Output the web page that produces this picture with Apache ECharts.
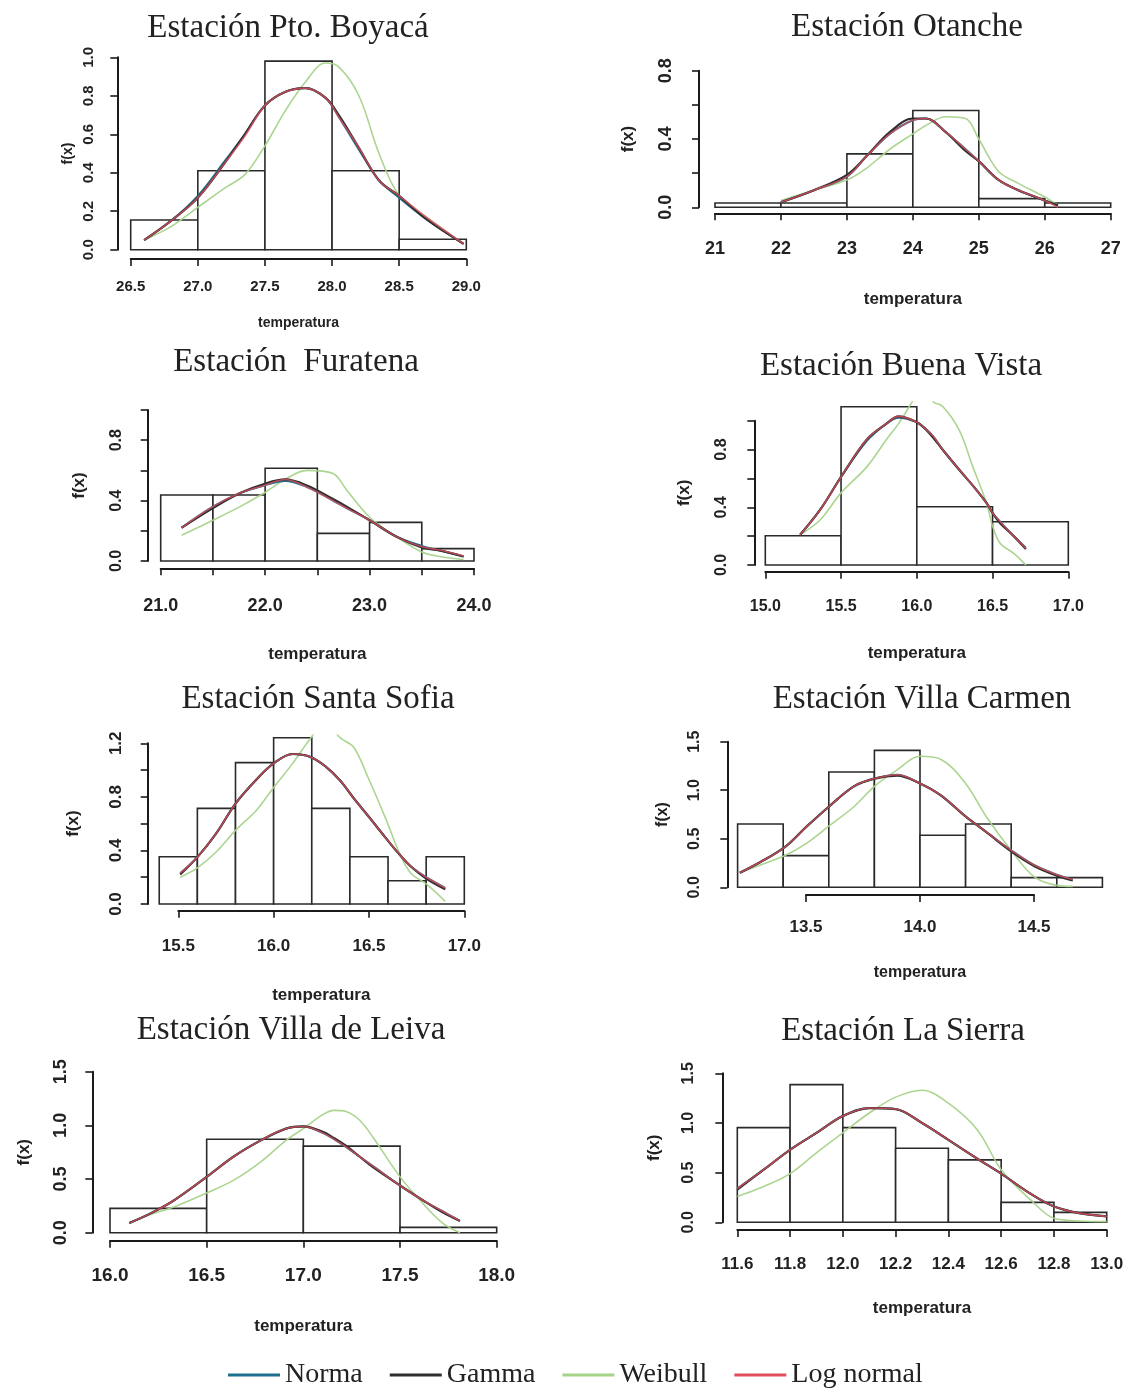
<!DOCTYPE html>
<html><head><meta charset="utf-8">
<script src="https://cdn.jsdelivr.net/npm/echarts@6/dist/echarts.min.js"></script>
<style>html,body{margin:0;padding:0;background:#fff}#c{width:1143px;height:1388px}</style>
</head><body><div id="c"></div>
<script>
// ---------------- DATA ----------------
const seriesNames = ['Norma', 'Gamma', 'Weibull', 'Log normal'];

const boyacaBins = [26.5, 27.0, 27.5, 28.0, 28.5, 29.0];
const boyacaDens = [0.154, 0.41, 0.98, 0.41, 0.054];
const boyacaX = [26.6, 26.8, 27.0, 27.2, 27.35, 27.5, 27.65, 27.8, 27.95, 28.05, 28.2, 28.35, 28.5, 28.7, 28.98];
const boyacaNorma = [0.05, 0.15, 0.28, 0.46, 0.60, 0.75, 0.82, 0.84, 0.79, 0.69, 0.52, 0.36, 0.27, 0.16, 0.03];
const boyacaGamma = [0.05, 0.15, 0.27, 0.45, 0.60, 0.75, 0.82, 0.84, 0.79, 0.70, 0.53, 0.36, 0.28, 0.16, 0.03];
const boyacaWeibull = [0.05, 0.12, 0.22, 0.32, 0.39, 0.54, 0.72, 0.87, 0.97, 0.95, 0.80, 0.50, 0.28, 0.17, 0.03];
const boyacaLogn = [0.05, 0.15, 0.27, 0.45, 0.59, 0.75, 0.82, 0.84, 0.79, 0.69, 0.53, 0.36, 0.28, 0.17, 0.03];

const otancheBins = [21, 22, 23, 24, 25, 26, 27];
const otancheDens = [0.025, 0.025, 0.313, 0.567, 0.051, 0.025];
const otancheX = [22.0, 22.5, 23.0, 23.3, 23.65, 24.0, 24.2, 24.5, 24.8, 25.0, 25.3, 25.6, 26.0, 26.2];
const otancheNorma = [0.03, 0.10, 0.18, 0.30, 0.43, 0.51, 0.52, 0.44, 0.34, 0.27, 0.16, 0.10, 0.04, 0.01];
const otancheGamma = [0.03, 0.10, 0.19, 0.30, 0.44, 0.52, 0.52, 0.44, 0.33, 0.27, 0.16, 0.10, 0.04, 0.01];
const otancheWeibull = [0.04, 0.10, 0.16, 0.23, 0.34, 0.43, 0.48, 0.53, 0.52, 0.40, 0.21, 0.14, 0.06, 0.01];
const otancheLogn = [0.03, 0.10, 0.18, 0.30, 0.43, 0.51, 0.52, 0.44, 0.34, 0.27, 0.16, 0.10, 0.04, 0.0];

const furatenaBins = [21.0, 21.5, 22.0, 22.5, 23.0, 23.5, 24.0];
const furatenaDens = [0.437, 0.437, 0.614, 0.183, 0.256, 0.082];
const furatenaX = [21.2, 21.5, 21.76, 21.99, 22.19, 22.4, 22.65, 22.78, 23.0, 23.26, 23.5, 23.67, 23.9];
const furatenaNorma = [0.22, 0.36, 0.45, 0.50, 0.53, 0.49, 0.40, 0.35, 0.27, 0.16, 0.10, 0.07, 0.03];
const furatenaGamma = [0.22, 0.35, 0.45, 0.51, 0.54, 0.50, 0.41, 0.36, 0.27, 0.16, 0.09, 0.07, 0.03];
const furatenaWeibull = [0.17, 0.27, 0.36, 0.45, 0.54, 0.60, 0.58, 0.47, 0.29, 0.16, 0.06, 0.03, 0.01];
const furatenaLogn = [0.22, 0.36, 0.45, 0.50, 0.54, 0.49, 0.40, 0.35, 0.27, 0.16, 0.095, 0.073, 0.033];

const buenaBins = [15.0, 15.5, 16.0, 16.5, 17.0];
const buenaDens = [0.203, 1.097, 0.404, 0.30];
const buenaX = [15.23, 15.36, 15.5, 15.67, 15.8, 15.88, 16.0, 16.05, 16.11, 16.17, 16.28, 16.37, 16.46, 16.5, 16.55, 16.64, 16.72];
const buenaNorma = [0.21, 0.38, 0.61, 0.86, 0.98, 1.02, 0.99, 0.95, 0.89, 0.80, 0.66, 0.55, 0.43, 0.36, 0.30, 0.20, 0.12];
const buenaGamma = [0.21, 0.38, 0.61, 0.87, 0.98, 1.03, 0.99, 0.95, 0.88, 0.80, 0.66, 0.55, 0.43, 0.36, 0.29, 0.20, 0.11];
const buenaWeibull = [0.21, 0.31, 0.50, 0.68, 0.87, 0.98, 1.18, 1.24, 1.13, 1.10, 0.935, 0.68, 0.43, 0.27, 0.15, 0.08, 0.0];
const buenaLogn = [0.21, 0.38, 0.61, 0.87, 0.98, 1.03, 0.99, 0.95, 0.89, 0.80, 0.66, 0.55, 0.43, 0.36, 0.30, 0.20, 0.115];

const sofiaBins = [15.4, 15.6, 15.8, 16.0, 16.2, 16.4, 16.6, 16.8, 17.0];
const sofiaDens = [0.353, 0.714, 1.056, 1.242, 0.714, 0.353, 0.174, 0.353];
const sofiaX = [15.51, 15.6, 15.7, 15.8, 15.91, 16.0, 16.1, 16.19, 16.27, 16.35, 16.42, 16.5, 16.59, 16.66, 16.72, 16.8, 16.9];
const sofiaNorma = [0.23, 0.35, 0.53, 0.75, 0.93, 1.05, 1.12, 1.10, 1.03, 0.92, 0.79, 0.65, 0.49, 0.37, 0.28, 0.20, 0.12];
const sofiaGamma = [0.22, 0.35, 0.53, 0.75, 0.93, 1.05, 1.12, 1.10, 1.03, 0.92, 0.79, 0.65, 0.49, 0.37, 0.28, 0.19, 0.11];
const sofiaWeibull = [0.20, 0.27, 0.39, 0.55, 0.70, 0.87, 1.05, 1.23, 1.36, 1.24, 1.17, 0.93, 0.63, 0.38, 0.23, 0.15, 0.02];
const sofiaLogn = [0.23, 0.35, 0.53, 0.75, 0.93, 1.05, 1.12, 1.10, 1.03, 0.92, 0.79, 0.65, 0.49, 0.37, 0.28, 0.20, 0.12];

const carmenBins = [13.2, 13.4, 13.6, 13.8, 14.0, 14.2, 14.4, 14.6, 14.8];
const carmenDens = [0.652, 0.326, 1.188, 1.411, 0.536, 0.652, 0.10, 0.10];
const carmenX = [13.21, 13.3, 13.41, 13.5, 13.6, 13.71, 13.8, 13.9, 14.0, 14.09, 14.2, 14.29, 14.4, 14.5, 14.6, 14.67];
const carmenNorma = [0.15, 0.26, 0.42, 0.62, 0.83, 1.04, 1.12, 1.16, 1.07, 0.95, 0.73, 0.57, 0.38, 0.23, 0.13, 0.08];
const carmenGamma = [0.15, 0.26, 0.42, 0.62, 0.83, 1.04, 1.12, 1.15, 1.07, 0.95, 0.73, 0.57, 0.37, 0.22, 0.12, 0.07];
const carmenWeibull = [0.15, 0.23, 0.33, 0.45, 0.63, 0.83, 1.04, 1.21, 1.35, 1.32, 1.07, 0.73, 0.38, 0.11, 0.02, 0.01];
const carmenLogn = [0.15, 0.26, 0.42, 0.62, 0.83, 1.04, 1.12, 1.16, 1.07, 0.95, 0.73, 0.57, 0.38, 0.23, 0.13, 0.08];

const leivaBins = [16.0, 16.5, 17.0, 17.5, 18.0];
const leivaDens = [0.227, 0.87, 0.807, 0.05];
const leivaX = [16.1, 16.21, 16.33, 16.5, 16.64, 16.78, 16.91, 17.0, 17.1, 17.16, 17.22, 17.29, 17.36, 17.5, 17.62, 17.72, 17.81];
const leivaNorma = [0.09, 0.18, 0.30, 0.52, 0.71, 0.86, 0.97, 0.99, 0.93, 0.87, 0.80, 0.71, 0.62, 0.44, 0.30, 0.20, 0.11];
const leivaGamma = [0.09, 0.18, 0.30, 0.52, 0.71, 0.86, 0.97, 0.99, 0.94, 0.88, 0.81, 0.71, 0.61, 0.44, 0.30, 0.19, 0.11];
const leivaWeibull = [0.09, 0.17, 0.24, 0.37, 0.49, 0.66, 0.86, 0.97, 1.10, 1.14, 1.13, 1.05, 0.89, 0.52, 0.27, 0.09, 0.0];
const leivaLogn = [0.09, 0.18, 0.30, 0.52, 0.71, 0.86, 0.97, 0.99, 0.93, 0.87, 0.80, 0.71, 0.62, 0.44, 0.30, 0.20, 0.11];

const sierraBins = [11.6, 11.8, 12.0, 12.2, 12.4, 12.6, 12.8, 13.0];
const sierraDens = [0.953, 1.386, 0.953, 0.745, 0.628, 0.201, 0.10];
const sierraX = [11.6, 11.7, 11.8, 11.9, 12.0, 12.1, 12.2, 12.3, 12.4, 12.51, 12.6, 12.71, 12.8, 12.9, 13.0];
const sierraNorma = [0.34, 0.53, 0.73, 0.90, 1.07, 1.15, 1.14, 1.00, 0.83, 0.64, 0.49, 0.29, 0.16, 0.09, 0.06];
const sierraGamma = [0.33, 0.53, 0.73, 0.90, 1.07, 1.15, 1.14, 1.00, 0.83, 0.64, 0.49, 0.29, 0.16, 0.09, 0.06];
const sierraWeibull = [0.26, 0.36, 0.49, 0.70, 0.90, 1.10, 1.26, 1.33, 1.20, 0.93, 0.53, 0.23, 0.04, 0.013, 0.007];
const sierraLogn = [0.34, 0.53, 0.73, 0.90, 1.07, 1.15, 1.14, 1.00, 0.83, 0.64, 0.49, 0.29, 0.16, 0.09, 0.06];

// axis tick ranges [first, last, step] and labelled-tick step
const boyacaTicks = {x: [26.5, 29.0, 0.5], xl: 0.5, y: [0, 1.0, 0.2], yl: 0.2, clip: 1.04};
const otancheTicks = {x: [21, 27, 1], xl: 1, y: [0, 0.8, 0.2], yl: 0.4, clip: 0.83};
const furatenaTicks = {x: [21.0, 24.0, 0.5], xl: 1, y: [0, 1.0, 0.2], yl: 0.4, clip: 1.04};
const buenaTicks = {x: [15.0, 17.0, 0.5], xl: 0.5, y: [0, 1.0, 0.2], yl: 0.4, clip: 1.13};
const sofiaTicks = {x: [15.5, 17.0, 0.5], xl: 0.5, y: [0, 1.2, 0.2], yl: 0.4, clip: 1.26};
const carmenTicks = {x: [13.5, 14.5, 0.5], xl: 0.5, y: [0, 1.5, 0.5], yl: 0.5, clip: 1.56};
const leivaTicks = {x: [16.0, 18.0, 0.5], xl: 0.5, y: [0, 1.5, 0.5], yl: 0.5, clip: 1.56};
const sierraTicks = {x: [11.6, 13.0, 0.2], xl: 0.2, y: [0, 1.5, 0.5], yl: 0.5, clip: 1.56};

// ---------------- LAYOUT (pixels) ----------------
const panels = [
  {title: 'Estación Pto. Boyacá', bins: boyacaBins, dens: boyacaDens, cx: boyacaX, s: [boyacaNorma, boyacaGamma, boyacaWeibull, boyacaLogn], t: boyacaTicks, xDec: 1,
   L: {X0: 130.7, X1: 466.3, Y0: 249.7, Y1: 57.3, yAx: 117.3, xAx: 259, tx: 288, ty: 28, fsx: 15, fsy: 15, nfs: 14, ym: 21, xm: 20, yng: 42, xng: 57}},
  {title: 'Estación Otanche', bins: otancheBins, dens: otancheDens, cx: otancheX, s: [otancheNorma, otancheGamma, otancheWeibull, otancheLogn], t: otancheTicks, xDec: 0,
   L: {X0: 715, X1: 1110.7, Y0: 207.3, Y1: 70.7, yAx: 699, xAx: 213.3, tx: 907, ty: 27, fsx: 18, fsy: 18, nfs: 17, ym: 24, xm: 27, yng: 62, xng: 78}},
  {title: 'Estación  Furatena', bins: furatenaBins, dens: furatenaDens, cx: furatenaX, s: [furatenaNorma, furatenaGamma, furatenaWeibull, furatenaLogn], t: furatenaTicks, xDec: 1,
   L: {X0: 160.7, X1: 474, Y0: 561, Y1: 410, yAx: 147.7, xAx: 568.3, tx: 296, ty: 362, fsx: 18, fsy: 16, nfs: 17, ym: 23, xm: 29, yng: 60, xng: 78}},
  {title: 'Estación Buena Vista', bins: buenaBins, dens: buenaDens, cx: buenaX, s: [buenaNorma, buenaGamma, buenaWeibull, buenaLogn], t: buenaTicks, xDec: 1,
   L: {X0: 765.3, X1: 1068.3, Y0: 565, Y1: 420.7, yAx: 754.3, xAx: 571.7, tx: 901, ty: 366, fsx: 16, fsy: 16, nfs: 17, ym: 25, xm: 27, yng: 61, xng: 73}},
  {title: 'Estación Santa Sofia', bins: sofiaBins, dens: sofiaDens, cx: sofiaX, s: [sofiaNorma, sofiaGamma, sofiaWeibull, sofiaLogn], t: sofiaTicks, xDec: 1,
   L: {X0: 178.3, X1: 464.3, Y0: 904, Y1: 743.3, yAx: 147.7, xAx: 910.7, tx: 318, ty: 699, fsx: 17, fsy: 17, nfs: 17, ym: 23, xm: 27, yng: 66, xng: 76}},
  {title: 'Estación Villa Carmen', bins: carmenBins, dens: carmenDens, cx: carmenX, s: [carmenNorma, carmenGamma, carmenWeibull, carmenLogn], t: carmenTicks, xDec: 1,
   L: {X0: 806, X1: 1034, Y0: 887.3, Y1: 741.7, yAx: 727.3, xAx: 895, tx: 922, ty: 699, fsx: 17, fsy: 16, nfs: 16, ym: 25, xm: 24, yng: 57, xng: 70}},
  {title: 'Estación Villa de Leiva', bins: leivaBins, dens: leivaDens, cx: leivaX, s: [leivaNorma, leivaGamma, leivaWeibull, leivaLogn], t: leivaTicks, xDec: 1,
   L: {X0: 110, X1: 496.7, Y0: 1232.7, Y1: 1071.7, yAx: 92.3, xAx: 1240.7, tx: 291, ty: 1030, fsx: 19, fsy: 18, nfs: 17, ym: 22, xm: 26, yng: 59, xng: 77}},
  {title: 'Estación La Sierra', bins: sierraBins, dens: sierraDens, cx: sierraX, s: [sierraNorma, sierraGamma, sierraWeibull, sierraLogn], t: sierraTicks, xDec: 1,
   L: {X0: 737.3, X1: 1106.7, Y0: 1222.3, Y1: 1073.3, yAx: 722.3, xAx: 1230, tx: 903, ty: 1031, fsx: 17, fsy: 16, nfs: 17, ym: 26, xm: 26, yng: 59, xng: 70}}
];

const lineStyles = {
  'Norma': {color: '#1f6f8f', width: 2, opacity: 1},
  'Gamma': {color: '#2e2e2e', width: 2.2, opacity: 1},
  'Weibull': {color: '#a6d38a', width: 1.6, opacity: 0.95},
  'Log normal': {color: '#e0505c', width: 1.6, opacity: 0.78}
};
const drawOrder = [2, 0, 1, 3]; // Weibull under, then Norma, Gamma, Log normal on top

const SANS = 'Liberation Sans, Arial, sans-serif';
const SERIF = 'Liberation Serif, Times New Roman, serif';
const isMult = (v, step) => Math.abs(v / step - Math.round(v / step)) < 1e-6;

const grids = [], xAxes = [], yAxes = [], series = [], titles = [];

panels.forEach((p, i) => {
  const L = p.L, t = p.t;
  const sx = (L.X1 - L.X0) / (t.x[1] - t.x[0]);
  const sy = (L.Y0 - L.Y1) / (t.y[1] - t.y[0]);
  const span = p.bins[p.bins.length - 1] - p.bins[0];
  const xd0 = Math.min(t.x[0], p.bins[0]) - span * 0.03;
  const xd1 = Math.max(t.x[1], p.bins[p.bins.length - 1]) + span * 0.03;
  const dl = L.X0 + (xd0 - t.x[0]) * sx;
  const dr = L.X0 + (xd1 - t.x[0]) * sx;
  const dt = L.Y0 - t.clip * sy;
  grids.push({left: dl, top: dt, width: dr - dl, height: L.Y0 - dt, outerBoundsMode: 'none', containLabel: false});
  grids.push({left: L.X0, top: L.Y1, width: L.X1 - L.X0, height: L.Y0 - L.Y1, outerBoundsMode: 'none', containLabel: false});

  xAxes.push({type: 'value', gridIndex: 2 * i, min: xd0, max: xd1, show: false});
  yAxes.push({type: 'value', gridIndex: 2 * i, min: 0, max: t.clip, show: false});

  const axisCommon = {
    axisLine: {show: true, onZero: false, lineStyle: {color: '#1a1a1a', width: 2}},
    axisTick: {show: true, length: 7, lineStyle: {color: '#1a1a1a', width: 1.6}},
    splitLine: {show: false},
    nameLocation: 'middle',
    nameMoveOverlap: false
  };
  xAxes.push(Object.assign({}, axisCommon, {
    type: 'value', gridIndex: 2 * i + 1, min: t.x[0], max: t.x[1], interval: t.x[2],
    offset: L.xAx - L.Y0,
    axisLabel: {show: true, margin: L.xm, fontSize: L.fsx, fontWeight: 'bold', fontFamily: SANS, color: '#222',
      showMinLabel: true, showMaxLabel: true,
      formatter: v => isMult(v, t.xl) ? v.toFixed(p.xDec) : ''},
    name: 'temperatura', nameGap: L.xng,
    nameTextStyle: {fontSize: L.nfs, fontWeight: 'bold', fontFamily: SANS, color: '#222'}
  }));
  yAxes.push(Object.assign({}, axisCommon, {
    type: 'value', gridIndex: 2 * i + 1, min: t.y[0], max: t.y[1], interval: t.y[2],
    offset: L.X0 - L.yAx,
    axisLabel: {show: true, rotate: 90, margin: L.ym, fontSize: L.fsy, fontWeight: 'bold', fontFamily: SANS, color: '#222',
      showMinLabel: true, showMaxLabel: true,
      formatter: v => isMult(v, t.yl) ? v.toFixed(1) : ''},
    name: 'f(x)', nameGap: L.yng,
    nameTextStyle: {fontSize: L.nfs, fontWeight: 'bold', fontFamily: SANS, color: '#222'}
  }));

  const hist = p.dens.map((d, k) => [p.bins[k], p.bins[k + 1], d]);
  series.push({
    type: 'custom', name: 'hist' + i, xAxisIndex: 2 * i, yAxisIndex: 2 * i, z: 1,
    data: hist, encode: {x: [0, 1], y: 2}, clip: false, silent: true,
    renderItem: (params, api) => {
      const a = api.coord([api.value(0), 0]);
      const b = api.coord([api.value(1), api.value(2)]);
      return {type: 'rect', shape: {x: a[0], y: b[1], width: b[0] - a[0], height: a[1] - b[1]},
        style: {fill: '#ffffff', stroke: '#2a2a2a', lineWidth: 1.6}};
    }
  });

  drawOrder.forEach(k => {
    const name = seriesNames[k];
    const st = lineStyles[name];
    series.push({
      type: 'line', name: name, xAxisIndex: 2 * i, yAxisIndex: 2 * i, z: 3,
      data: p.cx.map((x, j) => [x, p.s[k][j]]),
      smooth: 0.35, showSymbol: false, symbol: 'none', clip: true, silent: true,
      color: st.color,
      itemStyle: {color: st.color},
      lineStyle: {color: st.color, width: st.width, opacity: st.opacity}
    });
  });

  titles.push({
    text: p.title, left: L.tx, top: L.ty, textAlign: 'center', textVerticalAlign: 'middle', padding: 0,
    textStyle: {fontFamily: SERIF, fontSize: 33, fontWeight: 'normal', color: '#222'}
  });
});

const chart = echarts.init(document.getElementById('c'), null, {renderer: 'canvas'});
chart.setOption({
  backgroundColor: '#ffffff',
  animation: false,
  title: titles,
  grid: grids,
  xAxis: xAxes,
  yAxis: yAxes,
  legend: {
    data: seriesNames, left: 228, top: 1361, padding: 0, icon: 'rect', itemWidth: 52, itemHeight: 3,
    itemGap: 27, selectedMode: false,
    textStyle: {fontFamily: SERIF, fontSize: 28, color: '#222'}
  },
  series: series
});
</script></body></html>
